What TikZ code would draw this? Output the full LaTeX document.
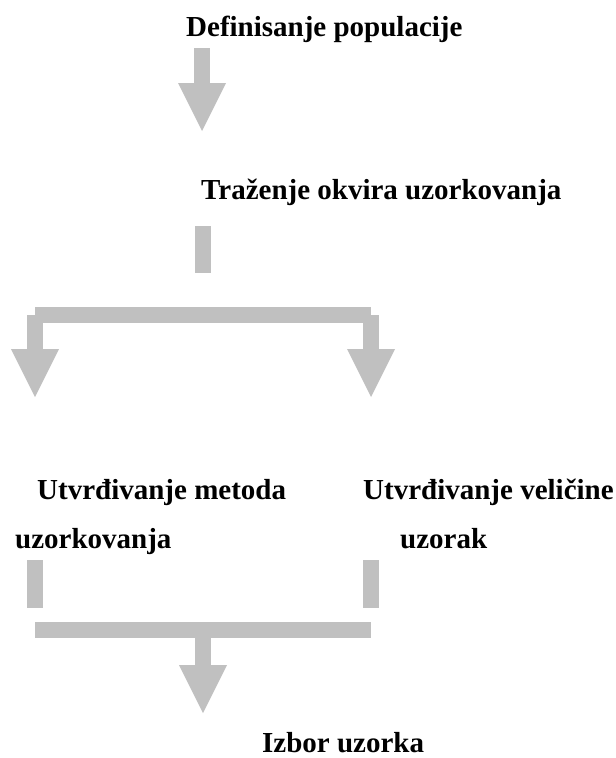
\documentclass[tikz,border=0pt]{standalone}
\usepackage{fontspec}
\setmainfont{Liberation Serif}
\usepackage{xcolor}
\usepackage{tikz}
\usetikzlibrary{arrows.meta}

\definecolor{strelica}{HTML}{C0C0C0}

\tikzset{
  tekst/.style={font=\bfseries\fontsize{29}{34}\selectfont, inner sep=0pt, anchor=base west},
  traka/.style={draw=strelica, line width=16pt},
  strela/.style={traka, -{Triangle[width=48pt,length=48pt,line width=0pt]}}
}

\begin{document}
\begin{tikzpicture}[x=1pt,y=-1pt]
\useasboundingbox (0,0) rectangle (616,758);

\node[tekst] (pop) at (186,36) {Definisanje populacije};
\node[tekst] (okvir) at (201,199) {Traženje okvira uzorkovanja};
\node[tekst] (metoda1) at (37,499) {Utvrđivanje metoda};
\node[tekst] (metoda2) at (15,548) {uzorkovanja};
\node[tekst] (velicina1) at (363,499) {Utvrđivanje veličine};
\node[tekst] (velicina2) at (400,548) {uzorak};
\node[tekst] (izbor) at (262,752) {Izbor uzorka};

\coordinate (p1) at (202,48);
\coordinate (p2) at (202,131);
\coordinate (o1) at (203,226);
\coordinate (o2) at (203,273);
\coordinate (gl) at (35,315);
\coordinate (gd) at (371,315);
\coordinate (gl2) at (35,397);
\coordinate (gd2) at (371,397);
\coordinate (ml) at (35,560);
\coordinate (vd) at (371,560);
\coordinate (dl) at (35,630);
\coordinate (dd) at (371,630);
\coordinate (ds) at (203,630);
\coordinate (iz) at (203,713);

\draw[strela] (p1) -- (p2);
\draw[traka] (o1) -- (o2);
\draw[traka] (gl) -- (gd);
\draw[strela] (gl) -- (gl2);
\draw[strela] (gd) -- (gd2);

\draw[traka] (ml) -- (ml |- 0,608);
\draw[traka] (vd) -- (vd |- 0,608);
\draw[traka] (dl) -- (dd);
\draw[strela] (ds) -- (iz);

\end{tikzpicture}
\end{document}
